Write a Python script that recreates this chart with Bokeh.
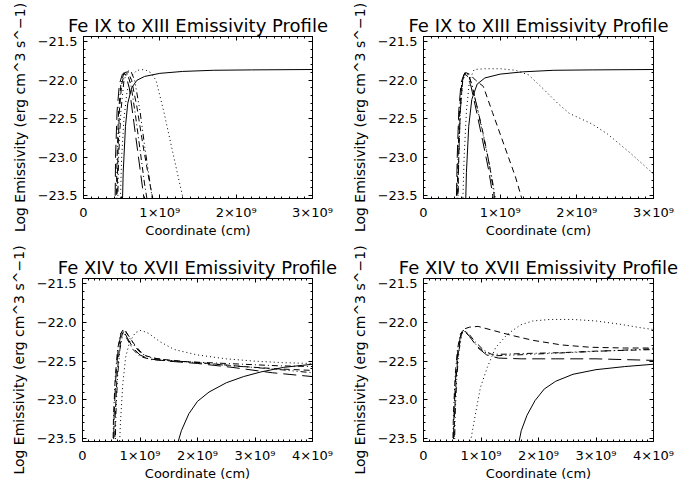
import numpy as np
from bokeh.plotting import figure
from bokeh.layouts import column, row
from bokeh.models import Range1d, FixedTicker, LinearAxis
from bokeh.embed import file_html
from bokeh.resources import INLINE

# ---------------- data (x in units of 1e9 cm, y = log emissivity) ----------------
X_UNIT = 1e9

TITLE_LOW = "Fe IX to XIII Emissivity Profile"
TITLE_HIGH = "Fe XIV to XVII Emissivity Profile"
X_LABEL = "Coordinate (cm)"
Y_LABEL = "Log Emissivity (erg cm^3 s^\u22121)"

Y_TICKS = [-23.5, -23.0, -22.5, -22.0, -21.5]
Y_TICK_LABELS = ["\u221223.5", "\u221223.0", "\u221222.5", "\u221222.0", "\u221221.5"]
X_TICKS_TOP = [0, 1, 2, 3]
X_TICKS_BOTTOM = [0, 1, 2, 3, 4]
X_TICK_LABELS = ["0", "1\u00d710\u2079", "2\u00d710\u2079", "3\u00d710\u2079", "4\u00d710\u2079"]

# Panel 1 (top left)
p1_solid_x = [0.50, 0.52, 0.55, 0.58, 0.63, 0.70, 0.80, 1.00, 1.30, 1.70, 2.20, 3.00]
p1_solid_y = [-24.0, -23.2, -22.6, -22.3, -22.1, -22.0, -21.95, -21.91, -21.885, -21.87, -21.865, -21.86]
p1_dot_x = [0.47, 0.50, 0.53, 0.57, 0.62, 0.70, 0.80, 0.88, 0.95, 1.05, 1.15, 1.25, 1.33]
p1_dot_y = [-24.0, -23.0, -22.5, -22.15, -21.95, -21.87, -21.86, -21.9, -22.0, -22.4, -22.85, -23.3, -23.65]
p1_dash_x = [0.43, 0.45, 0.47, 0.50, 0.54, 0.58, 0.63, 0.70, 0.78, 0.86, 0.92]
p1_dash_y = [-24.0, -23.0, -22.4, -22.05, -21.9, -21.89, -22.0, -22.35, -22.85, -23.3, -23.6]
p1_dd_x = [0.42, 0.44, 0.46, 0.49, 0.53, 0.57, 0.62, 0.68, 0.74, 0.80, 0.84]
p1_dd_y = [-24.0, -23.0, -22.4, -22.05, -21.9, -21.91, -22.05, -22.45, -22.9, -23.35, -23.6]
p1_ddd_x = [0.44, 0.46, 0.49, 0.53, 0.58, 0.62, 0.67, 0.74, 0.80, 0.88, 0.91]
p1_ddd_y = [-24.0, -23.0, -22.4, -22.0, -21.88, -21.88, -22.0, -22.4, -22.85, -23.4, -23.6]
p1_long_x = [0.41, 0.42, 0.44, 0.47, 0.51, 0.55, 0.60, 0.66, 0.72, 0.78, 0.80]
p1_long_y = [-24.0, -23.0, -22.4, -22.05, -21.92, -21.92, -22.1, -22.55, -23.0, -23.45, -23.6]

# Panel 2 (top right)
p2_solid_x = [0.54, 0.56, 0.59, 0.63, 0.70, 0.80, 1.00, 1.30, 1.70, 2.20, 3.00]
p2_solid_y = [-24.0, -23.2, -22.6, -22.25, -22.05, -21.97, -21.92, -21.89, -21.87, -21.865, -21.86]
p2_dot_x = [0.50, 0.53, 0.56, 0.60, 0.66, 0.80, 1.00, 1.20, 1.37, 1.55, 1.75, 1.90, 2.05, 2.20, 2.40, 2.70, 3.00]
p2_dot_y = [-24.0, -23.0, -22.4, -22.0, -21.86, -21.85, -21.85, -21.87, -21.93, -22.1, -22.3, -22.43, -22.5, -22.57, -22.7, -22.95, -23.22]
p2_dash_x = [0.44, 0.46, 0.48, 0.51, 0.55, 0.60, 0.68, 0.78, 0.90, 1.05, 1.20, 1.30]
p2_dash_y = [-24.0, -23.0, -22.4, -22.0, -21.9, -21.92, -22.0, -22.08, -22.42, -22.84, -23.26, -23.6]
p2_dd_x = [0.43, 0.45, 0.47, 0.50, 0.54, 0.58, 0.63, 0.70, 0.78, 0.86, 0.93, 0.95]
p2_dd_y = [-24.0, -23.0, -22.4, -22.02, -21.9, -21.92, -22.05, -22.35, -22.7, -23.1, -23.55, -23.7]
p2_ddd_x = [0.44, 0.46, 0.48, 0.51, 0.55, 0.59, 0.64, 0.71, 0.79, 0.87, 0.95]
p2_ddd_y = [-24.0, -23.0, -22.4, -22.02, -21.9, -21.93, -22.1, -22.4, -22.77, -23.15, -23.6]
p2_long_x = [0.42, 0.44, 0.46, 0.49, 0.53, 0.57, 0.62, 0.69, 0.77, 0.85, 0.92]
p2_long_y = [-24.0, -23.0, -22.4, -22.03, -21.92, -21.94, -22.08, -22.4, -22.78, -23.17, -23.6]

# Panel 3 (bottom left)
p3_solid_x = [1.64, 1.72, 1.85, 2.00, 2.20, 2.50, 2.80, 3.10, 3.50, 4.00]
p3_solid_y = [-23.6, -23.4, -23.18, -23.02, -22.9, -22.78, -22.7, -22.64, -22.58, -22.54]
p3_dot_x = [0.62, 0.66, 0.70, 0.75, 0.82, 0.92, 1.02, 1.15, 1.35, 1.60, 2.00, 2.50, 3.00, 3.50, 4.00]
p3_dot_y = [-24.0, -23.3, -22.8, -22.45, -22.25, -22.13, -22.1, -22.14, -22.25, -22.35, -22.42, -22.47, -22.5, -22.52, -22.53]
p3_dash_x = [0.55, 0.57, 0.60, 0.64, 0.69, 0.73, 0.80, 0.90, 1.00, 1.10, 1.30, 1.70, 2.20, 2.80, 3.40, 4.00]
p3_dash_y = [-24.0, -23.2, -22.7, -22.35, -22.15, -22.1, -22.17, -22.28, -22.37, -22.43, -22.47, -22.5, -22.53, -22.57, -22.6, -22.62]
p3_dd_x = [0.52, 0.54, 0.57, 0.61, 0.66, 0.70, 0.78, 0.88, 1.00, 1.20, 1.60, 2.20, 2.80, 3.40, 4.00]
p3_dd_y = [-24.0, -23.2, -22.7, -22.35, -22.15, -22.1, -22.22, -22.35, -22.44, -22.48, -22.5, -22.52, -22.54, -22.56, -22.57]
p3_ddd_x = [0.56, 0.58, 0.61, 0.65, 0.70, 0.75, 0.82, 0.92, 1.02, 1.15, 1.50, 2.00, 2.60, 3.30, 4.00]
p3_ddd_y = [-24.0, -23.2, -22.7, -22.35, -22.15, -22.11, -22.2, -22.32, -22.4, -22.45, -22.49, -22.52, -22.56, -22.6, -22.65]
p3_long_x = [0.53, 0.55, 0.58, 0.62, 0.67, 0.71, 0.78, 0.88, 1.00, 1.15, 1.50, 2.00, 2.60, 3.30, 4.00]
p3_long_y = [-24.0, -23.2, -22.7, -22.35, -22.14, -22.1, -22.2, -22.33, -22.42, -22.47, -22.5, -22.53, -22.58, -22.65, -22.7]

# Panel 4 (bottom right)
p4_solid_x = [1.64, 1.70, 1.80, 1.94, 2.10, 2.30, 2.60, 3.00, 3.50, 4.00]
p4_solid_y = [-23.62, -23.4, -23.2, -23.01, -22.86, -22.76, -22.67, -22.61, -22.57, -22.54]
p4_dot_x = [0.80, 0.82, 0.90, 0.99, 1.11, 1.25, 1.46, 1.69, 1.90, 2.20, 2.60, 3.00, 3.40, 3.80, 4.00]
p4_dot_y = [-23.8, -23.53, -23.2, -22.84, -22.58, -22.33, -22.15, -22.03, -21.98, -21.96, -21.96, -21.98, -22.02, -22.07, -22.09]
p4_dash_x = [0.52, 0.54, 0.57, 0.61, 0.66, 0.72, 0.80, 0.95, 1.20, 1.50, 1.90, 2.40, 2.90, 3.50, 4.00]
p4_dash_y = [-24.0, -23.2, -22.7, -22.35, -22.15, -22.08, -22.06, -22.05, -22.1, -22.16, -22.23, -22.29, -22.32, -22.33, -22.33]
p4_dd_x = [0.50, 0.52, 0.55, 0.59, 0.64, 0.69, 0.78, 0.90, 1.05, 1.18, 1.40, 1.80, 2.40, 3.00, 3.50, 4.00]
p4_dd_y = [-24.0, -23.2, -22.7, -22.35, -22.15, -22.1, -22.14, -22.25, -22.36, -22.41, -22.41, -22.4, -22.39, -22.37, -22.36, -22.35]
p4_ddd_x = [0.53, 0.55, 0.58, 0.62, 0.67, 0.72, 0.82, 0.95, 1.10, 1.25, 1.60, 2.20, 2.80, 3.40, 4.00]
p4_ddd_y = [-24.0, -23.2, -22.7, -22.35, -22.15, -22.11, -22.2, -22.32, -22.4, -22.43, -22.42, -22.4, -22.38, -22.36, -22.34]
p4_long_x = [0.51, 0.53, 0.56, 0.60, 0.65, 0.70, 0.80, 0.95, 1.10, 1.30, 1.70, 2.30, 3.00, 3.50, 4.00]
p4_long_y = [-24.0, -23.2, -22.7, -22.35, -22.15, -22.1, -22.18, -22.33, -22.42, -22.46, -22.47, -22.47, -22.47, -22.48, -22.49]

# ---------------- styling ----------------
DASH = {
    "solid": "solid",
    "dotted": "1 3",
    "dashed": "6 4",
    "dashdot": "6 3 1 3",
    "dashdotdot": "6 3 1 3 1 3 1 3",
    "longdash": "13 6",
}
FONT = "DejaVu Sans"
Y_MIN, Y_MAX = -23.54, -21.43


def make_panel(title, xmax, xticks, curves, left, right, top, bottom):
    xt = [t * X_UNIT for t in xticks]
    xminor = [k * 0.1 * X_UNIT for k in range(0, int(xmax * 10) + 1)]
    yminor = [round(-23.5 + 0.1 * k, 2) for k in range(0, 21)]
    p = figure(width=348, height=243, output_backend="svg", toolbar_location=None, tools="",
               x_range=Range1d(0, xmax * X_UNIT), y_range=Range1d(Y_MIN, Y_MAX),
               min_border_left=left, min_border_right=right,
               min_border_top=top, min_border_bottom=bottom,
               background_fill_color="white", border_fill_color="white",
               outline_line_color="black", outline_line_width=1)
    p.xgrid.visible = False
    p.ygrid.visible = False

    p.title.text = title
    p.title.text_font = FONT
    p.title.text_font_size = "18px"
    p.title.text_font_style = "normal"
    p.title.text_color = "black"
    p.title.align = "center"
    p.title.standoff = 2

    xlabels = {t * X_UNIT: X_TICK_LABELS[i] for i, t in enumerate(xticks)}
    ylabels = {t: Y_TICK_LABELS[i] for i, t in enumerate(Y_TICKS)}

    for ax, ticks, minor, labels in ((p.xaxis[0], xt, xminor, xlabels),
                                     (p.yaxis[0], Y_TICKS, yminor, ylabels)):
        ax.ticker = FixedTicker(ticks=ticks, minor_ticks=minor)
        ax.major_label_overrides = labels
        ax.major_tick_in = 4
        ax.major_tick_out = 0
        ax.minor_tick_in = 2
        ax.minor_tick_out = 0
        ax.axis_line_color = "black"
        ax.major_tick_line_color = "black"
        ax.minor_tick_line_color = "black"
        ax.major_label_text_font = FONT
        ax.major_label_text_font_size = "13px"
        ax.major_label_text_color = "black"
        ax.axis_label_text_font = FONT
        ax.axis_label_text_font_size = "13px"
        ax.axis_label_text_font_style = "normal"
        ax.axis_label_text_color = "black"

    p.xaxis[0].axis_label = X_LABEL
    p.xaxis[0].major_label_standoff = 6
    p.xaxis[0].axis_label_standoff = 0
    p.yaxis[0].axis_label = Y_LABEL
    p.yaxis[0].axis_label_text_font_size = "14px"
    p.yaxis[0].major_label_standoff = 6
    p.yaxis[0].axis_label_standoff = 7

    # mirrored tick marks on the top and right edges (IDL box style)
    for loc, ticks, minor in (("above", xt, xminor), ("right", Y_TICKS, yminor)):
        ax = LinearAxis(ticker=FixedTicker(ticks=ticks, minor_ticks=minor),
                        major_label_overrides={t: "" for t in ticks},
                        major_tick_in=4, major_tick_out=0, minor_tick_in=2, minor_tick_out=0,
                        major_label_standoff=0, major_label_text_font_size="1px",
                        axis_line_color="black", major_tick_line_color="black",
                        minor_tick_line_color="black")
        p.add_layout(ax, loc)

    for (xs, ys, style) in curves:
        p.line([x * X_UNIT for x in xs], ys, line_color="black", line_width=1,
               line_dash=DASH[style])
    return p


curves1 = [(p1_solid_x, p1_solid_y, "solid"), (p1_dot_x, p1_dot_y, "dotted"),
           (p1_dash_x, p1_dash_y, "dashed"), (p1_dd_x, p1_dd_y, "dashdot"),
           (p1_ddd_x, p1_ddd_y, "dashdotdot"), (p1_long_x, p1_long_y, "longdash")]
curves2 = [(p2_solid_x, p2_solid_y, "solid"), (p2_dot_x, p2_dot_y, "dotted"),
           (p2_dash_x, p2_dash_y, "dashed"), (p2_dd_x, p2_dd_y, "dashdot"),
           (p2_ddd_x, p2_ddd_y, "dashdotdot"), (p2_long_x, p2_long_y, "longdash")]
curves3 = [(p3_solid_x, p3_solid_y, "solid"), (p3_dot_x, p3_dot_y, "dotted"),
           (p3_dash_x, p3_dash_y, "dashed"), (p3_dd_x, p3_dd_y, "dashdot"),
           (p3_ddd_x, p3_ddd_y, "dashdotdot"), (p3_long_x, p3_long_y, "longdash")]
curves4 = [(p4_solid_x, p4_solid_y, "solid"), (p4_dot_x, p4_dot_y, "dotted"),
           (p4_dash_x, p4_dash_y, "dashed"), (p4_dd_x, p4_dd_y, "dashdot"),
           (p4_ddd_x, p4_ddd_y, "dashdotdot"), (p4_long_x, p4_long_y, "longdash")]

p1 = make_panel(TITLE_LOW, 3, X_TICKS_TOP, curves1, 83, 36, 36, 45)
p2 = make_panel(TITLE_LOW, 3, X_TICKS_TOP, curves2, 75, 43, 36, 45)
p3 = make_panel(TITLE_HIGH, 4, X_TICKS_BOTTOM, curves3, 82, 36, 35, 45)
p4 = make_panel(TITLE_HIGH, 4, X_TICKS_BOTTOM, curves4, 75, 43, 35, 45)

layout = column(row(p1, p2), row(p3, p4))
open("out.html", "w").write(file_html(layout, INLINE))
